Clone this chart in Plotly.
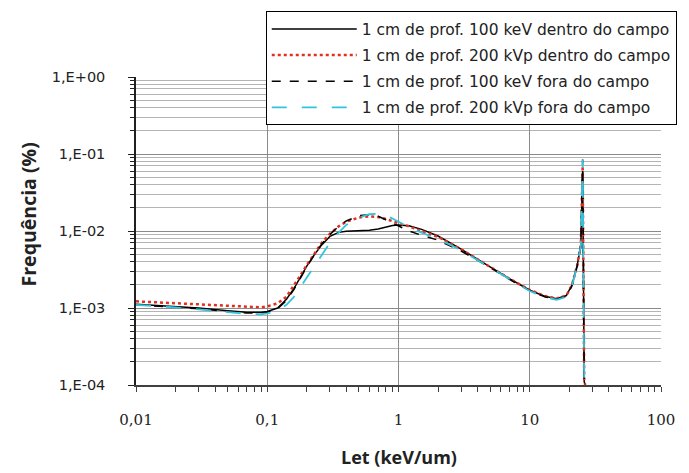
import plotly.graph_objects as go

let_x = [0.01, 0.015, 0.02, 0.03, 0.05, 0.07, 0.09, 0.1, 0.12, 0.14, 0.16, 0.18, 0.2,
         0.23, 0.26, 0.3, 0.35, 0.4, 0.5, 0.6, 0.7, 0.8, 0.9, 1.0, 1.2, 1.5, 2, 3, 4,
         5, 7, 10, 13, 16, 19, 21, 23, 24.5, 25.3, 26.0, 26.5]

dentro_100kev = [1.12e-3, 1.08e-3, 1.05e-3, 1.0e-3, 0.92e-3, 0.88e-3, 0.88e-3, 0.9e-3, 1.0e-3,
                 1.3e-3, 1.8e-3, 2.6e-3, 3.5e-3, 5.0e-3, 6.6e-3, 8.5e-3, 9.6e-3, 9.9e-3,
                 1.0e-2, 1.02e-2, 1.06e-2, 1.12e-2, 1.18e-2, 1.2e-2, 1.17e-2, 1.05e-2,
                 8.6e-3, 5.8e-3, 4.3e-3, 3.4e-3, 2.4e-3, 1.7e-3, 1.42e-3, 1.32e-3,
                 1.45e-3, 2.0e-3, 3.6e-3, 6.5e-3, 6.0e-2, 1.1e-4, 1.0e-4]

dentro_200kvp = [1.22e-3, 1.18e-3, 1.15e-3, 1.1e-3, 1.05e-3, 1.02e-3, 1.02e-3, 1.05e-3, 1.15e-3,
                 1.4e-3, 1.95e-3, 2.7e-3, 3.6e-3, 5.2e-3, 7.0e-3, 9.2e-3, 1.15e-2, 1.32e-2,
                 1.5e-2, 1.55e-2, 1.52e-2, 1.43e-2, 1.35e-2, 1.28e-2, 1.15e-2, 1.0e-2,
                 8.4e-3, 5.8e-3, 4.3e-3, 3.4e-3, 2.4e-3, 1.72e-3, 1.43e-3, 1.33e-3,
                 1.45e-3, 2.0e-3, 3.6e-3, 6.5e-3, 7.0e-2, 1.1e-4, 1.0e-4]

fora_100kev = [1.1e-3, 1.06e-3, 1.03e-3, 0.98e-3, 0.9e-3, 0.86e-3, 0.86e-3, 0.88e-3, 0.98e-3,
               1.25e-3, 1.75e-3, 2.5e-3, 3.4e-3, 5.0e-3, 6.8e-3, 9.0e-3, 1.15e-2, 1.35e-2,
               1.58e-2, 1.63e-2, 1.55e-2, 1.4e-2, 1.27e-2, 1.15e-2, 1.0e-2, 8.8e-3,
               7.6e-3, 5.5e-3, 4.2e-3, 3.35e-3, 2.35e-3, 1.68e-3, 1.4e-3, 1.3e-3,
               1.42e-3, 1.95e-3, 3.5e-3, 6.5e-3, 8.5e-2, 1.1e-4, 1.0e-4]

fora_200kvp = [1.1e-3, 1.06e-3, 1.02e-3, 0.96e-3, 0.88e-3, 0.84e-3, 0.83e-3, 0.85e-3, 0.92e-3,
               1.1e-3, 1.4e-3, 1.9e-3, 2.5e-3, 3.5e-3, 5.0e-3, 7.0e-3, 9.5e-3, 1.2e-2,
               1.5e-2, 1.65e-2, 1.68e-2, 1.6e-2, 1.45e-2, 1.32e-2, 1.12e-2, 9.5e-3,
               7.9e-3, 5.6e-3, 4.2e-3, 3.35e-3, 2.35e-3, 1.66e-3, 1.38e-3, 1.28e-3,
               1.4e-3, 1.95e-3, 3.5e-3, 6.5e-3, 8.5e-2, 1.2e-4, 1.0e-4]

series_names = ["1 cm de prof. 100 keV dentro do campo",
                "1 cm de prof. 200 kVp dentro do campo",
                "1 cm de prof. 100 keV fora do campo",
                "1 cm de prof. 200 kVp fora do campo"]

x_tickvals = [0.01, 0.1, 1, 10, 100]
x_ticktext = ["0,01", "0,1", "1", "10", "100"]
y_tickvals = [1e-4, 1e-3, 1e-2, 1e-1, 1]
y_ticktext = ["1,E-04", "1,E-03", "1,E-02", "1,E-01", "1,E+00"]

styles = [
    dict(color="#000000", width=1.5, dash="solid"),
    dict(color="#e0301e", width=2.5, dash="dot"),
    dict(color="#000000", width=1.5, dash="dash"),
    dict(color="#33c3dc", width=1.8, dash="longdash"),
]

fig = go.Figure()
for i, (name, ys) in enumerate(zip(series_names,
                                   [dentro_100kev, dentro_200kvp, fora_100kev, fora_200kvp])):
    fig.add_trace(go.Scatter(x=let_x, y=ys, mode="lines", name=name,
                             line=styles[i], legendgroup=f"g{i}"))

minor_y = [k * 10.0 ** e for e in range(-4, 0) for k in range(2, 10)]
minor_x = [k * 10.0 ** e for e in range(-2, 2) for k in range(2, 10)]

fig.update_layout(
    width=689, height=473,
    margin=dict(l=136, r=19, t=75, b=88),
    paper_bgcolor="white", plot_bgcolor="white",
    showlegend=True,
    legend=dict(x=1.03, xanchor="right", y=1.213, yanchor="top",
                bgcolor="white", bordercolor="#000000", borderwidth=1,
                font=dict(family="DejaVu Sans", size=15.5, color="#222"),
                itemwidth=85, tracegroupgap=3),
    xaxis=dict(type="log", range=[-2, 2], tickvals=x_tickvals, ticktext=x_ticktext,
               showgrid=True, gridcolor="#8a8a8a", gridwidth=1,
               showline=True, linecolor="#404040", linewidth=1.5,
               ticks="outside", ticklen=5, tickcolor="#404040",
               ticklabelstandoff=15,
               tickfont=dict(family="DejaVu Serif", size=15, color="#222"),
               minor=dict(tickvals=minor_x, ticks="outside", ticklen=5,
                          tickcolor="#404040", showgrid=False),
               zeroline=False),
    yaxis=dict(type="log", range=[-4, 0], tickvals=y_tickvals, ticktext=y_ticktext,
               showgrid=True, gridcolor="#8a8a8a", gridwidth=1,
               showline=True, linecolor="#202020", linewidth=1.5,
               ticks="outside", ticklen=6, tickcolor="#202020",
               ticklabelstandoff=20,
               tickfont=dict(family="DejaVu Sans", size=14.5, color="#222"),
               minor=dict(tickvals=minor_y, ticks="outside", ticklen=4,
                          tickcolor="#202020", showgrid=True, gridcolor="#b4b4b4",
                          gridwidth=1),
               zeroline=False),
    annotations=[
        dict(text="<b>Frequência (%)</b>", textangle=-90, xref="paper", yref="paper",
             x=-0.205, y=0.555, xanchor="center", yanchor="middle", showarrow=False,
             font=dict(family="Open Sans", size=19.5, color="#222")),
        dict(text="<b>Let (keV/um)</b>", xref="paper", yref="paper",
             x=0.5, y=-0.235, xanchor="center", yanchor="middle", showarrow=False,
             font=dict(family="Open Sans", size=18, color="#222")),
    ],
)

fig.write_html("out.html")
